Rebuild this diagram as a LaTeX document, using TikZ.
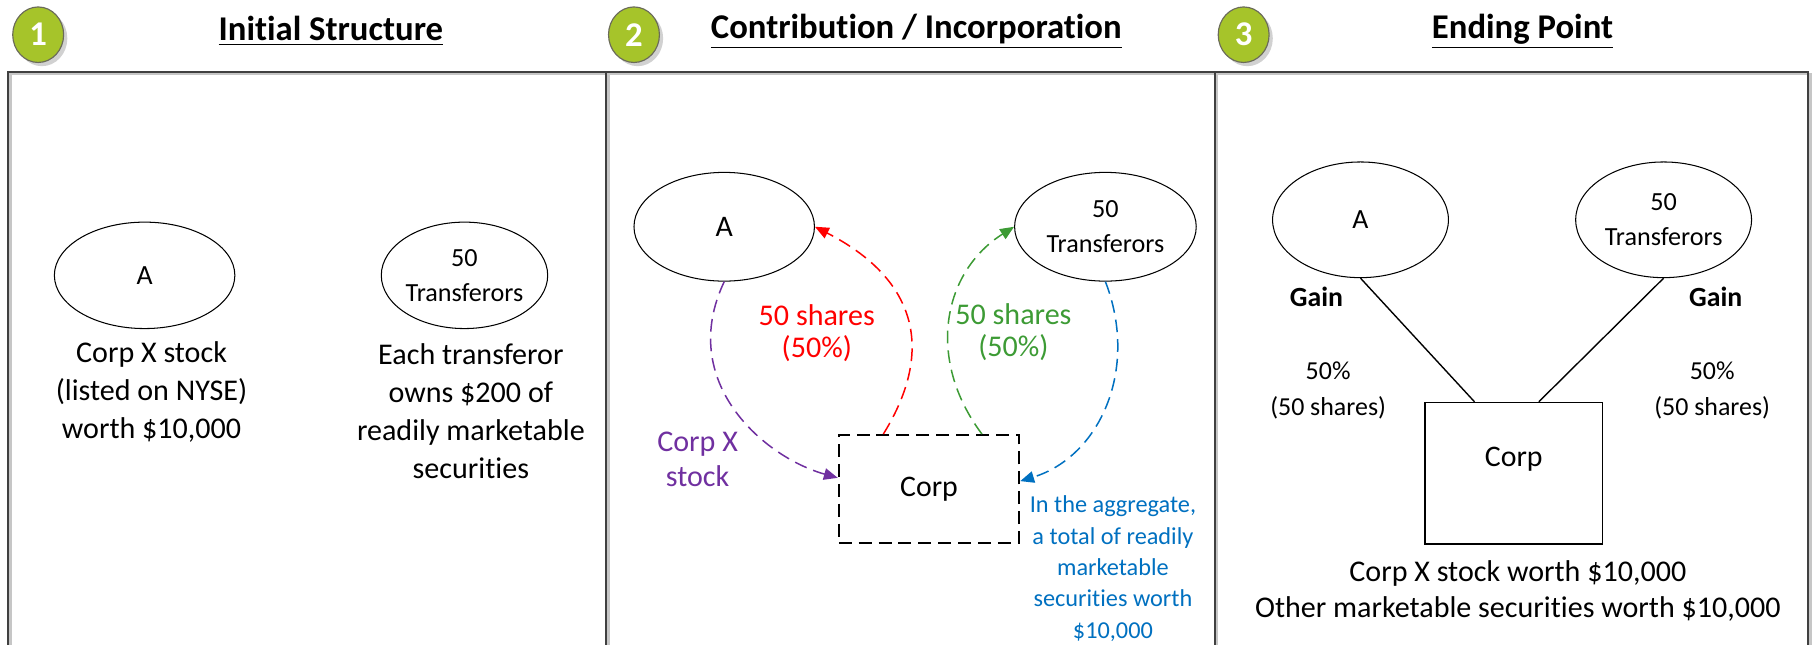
\documentclass[tikz,border=0pt]{standalone}
\usepackage{fontspec}
\setmainfont{Carlito}[Ligatures={NoCommon}]
\usetikzlibrary{arrows.meta,shapes.geometric,calc,shadows}
\definecolor{badgegreen}{HTML}{A6C42A}
\definecolor{badgeline}{HTML}{6B6B5A}
\definecolor{framecol}{HTML}{404040}
\definecolor{redc}{HTML}{FF0000}
\definecolor{purplec}{HTML}{7030A0}
\definecolor{greenc}{HTML}{3D9B35}
\definecolor{bluec}{HTML}{0070C0}
\begin{document}
\begin{tikzpicture}[x=0.5pt,y=-0.5pt,
  every node/.style={inner sep=0pt, align=center},
  ell/.style={ellipse, draw, line width=0.45pt},
  lab/.style={font=\fontsize{11.3}{15}\selectfont},
  alab/.style={font=\fontsize{12}{14}\selectfont},
  biglab/.style={font=\fontsize{12.9}{14}\selectfont},
  body/.style={font=\fontsize{13}{16.5}\selectfont},
  pct/.style={font=\fontsize{11.2}{15.3}\selectfont},
  arrlab/.style={font=\fontsize{13}{14}\selectfont},
  bluetext/.style={font=\fontsize{10.5}{13.6}\selectfont, text=bluec},
  badge/.style={ellipse, draw=badgeline, line width=0.5pt, fill=badgegreen,
     minimum width=22pt, minimum height=24pt, text=white,
     font=\fontsize{15}{15}\selectfont\bfseries,
     drop shadow={shadow xshift=1.6pt, shadow yshift=-1.6pt, fill=gray!60, opacity=0.6}},
  titletext/.style={font=\fontsize{15}{17}\selectfont\bfseries},
  frameline/.style={draw=framecol, line width=1pt},
  frameshadow/.style={draw=gray!45, line width=1pt},
  flow/.style={line width=0.65pt, dash pattern=on 5.5pt off 3pt,
     -{Triangle[length=6pt,width=5pt]}},
  solidline/.style={line width=0.6pt}
]
\useasboundingbox (0,0) rectangle (1568,557.5);

% frame
\draw[frameshadow] (9,557.5) -- (9,64) -- (1565,64) -- (1565,557.5);
\draw[frameshadow] (526,64) -- (526,557.5);
\draw[frameshadow] (1052,64) -- (1052,557.5);
\draw[frameline] (7,557.5) -- (7,62) -- (1563,62) -- (1563,557.5);
\draw[frameline] (524,62) -- (524,557.5);
\draw[frameline] (1050,62) -- (1050,557.5);

% badges and titles
\node[badge] (b1) at (33,30) {1};
\node[badge] (b2) at (548,30) {2};
\node[badge] (b3) at (1075,30) {3};
\node[titletext] (t1) at (286,27) {\underline{Initial Structure}};
\node[titletext] (t2) at (792,27) {\underline{Contribution / Incorporation}};
\node[titletext] (t3) at (1316,27) {\underline{Ending Point}};

% panel 1
\node[ell, alab, minimum width=78pt, minimum height=46pt] (A1) at (125,238) {A};
\node[ell, lab, minimum width=68.5pt, minimum height=46pt] (T1) at (401.5,238) {50\\Transferors};
\node[body] (A1txt) at (131,339) {Corp X stock\\(listed on NYSE)\\worth \$10,000};
\node[body] (T1txt) at (407,355.5) {Each transferor\\owns \$200 of\\readily marketable\\securities};

% panel 2
\node[ell, biglab, minimum width=78pt, minimum height=47pt] (A2) at (626,196) {A};
\node[ell, lab, minimum width=78.5pt, minimum height=47pt] (T2) at (955.5,196) {50\\Transferors};
\node[draw, line width=0.85pt, dash pattern=on 5.6pt off 3pt, biglab,
      minimum width=78pt, minimum height=46.5pt] (C2) at (803,422.5) {Corp};

\coordinate (c2red) at ($(C2.north west)!0.25!(C2.north east)$);
\coordinate (c2green) at ($(C2.north west)!0.79!(C2.north east)$);
\coordinate (c2left) at ($(C2.north west)!0.40!(C2.south west)$);
\coordinate (c2right) at ($(C2.north east)!0.43!(C2.south east)$);

\draw[flow, redc] (c2red) .. controls (810,300) and (790,240) .. (A2.east);
\draw[flow, purplec] (A2.south) .. controls (585,330) and (660,395) .. (c2left);
\draw[flow, greenc] (c2green) .. controls (800,310) and (815,235) .. (T2.west);
\draw[flow, bluec] (T2.south) .. controls (985,320) and (950,395) .. (c2right);

\node[arrlab, text=redc] (redlab) at (706,288) {50 shares\\(50\%)};
\node[arrlab, text=greenc] (greenlab) at (876,287) {50 shares\\(50\%)};
\node[arrlab, text=purplec, font=\fontsize{13}{15}\selectfont] (purplelab) at (603,397) {Corp X\\stock};
\node[bluetext] (bluelab) at (962,491.5) {In the aggregate,\\a total of readily\\marketable\\securities worth\\\$10,000};

% panel 3
\node[ell, alab, minimum width=76pt, minimum height=50pt] (A3) at (1176,190) {A};
\node[ell, lab, minimum width=76pt, minimum height=50pt] (T3) at (1438,190) {50\\Transferors};
\node[draw, line width=0.7pt, minimum width=76.5pt, minimum height=61pt,
      label={[biglab, yshift=6pt]center:Corp}] (C3) at (1308.5,409) {};
\draw[solidline] (A3.south) -- ($(C3.north west)!0.28!(C3.north east)$);
\draw[solidline] (T3.south) -- ($(C3.north west)!0.64!(C3.north east)$);
\node[font=\fontsize{12}{14}\selectfont\bfseries] (gainL) at (1138,257) {Gain};
\node[font=\fontsize{12}{14}\selectfont\bfseries] (gainR) at (1483,257) {Gain};
\node[pct] (pctL) at (1148,337.5) {50\%\\(50 shares)};
\node[pct] (pctR) at (1480,337.5) {50\%\\(50 shares)};
\node[font=\fontsize{13}{15.8}\selectfont] (bottom3) at (1312,511) {Corp X stock worth \$10,000\\Other marketable securities worth \$10,000};
\end{tikzpicture}
\end{document}
